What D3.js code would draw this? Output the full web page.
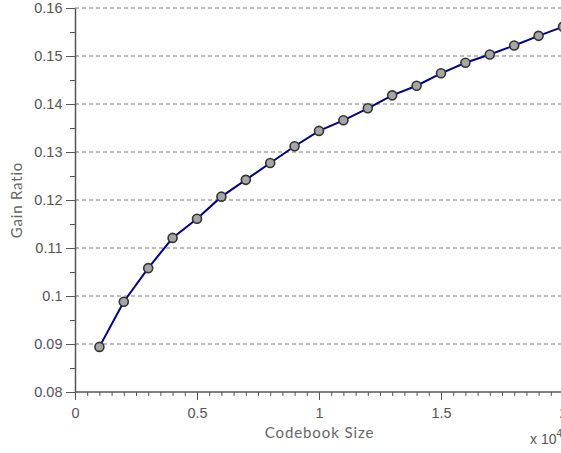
<!DOCTYPE html>
<html>
<head>
<meta charset="utf-8">
<script src="https://cdn.jsdelivr.net/npm/d3@7"></script>
<style>
  html, body { margin: 0; padding: 0; background: #fff; }
  svg { display: block; }
  .tick text { font-family: "Liberation Sans", Arial, sans-serif; font-size: 14.5px; fill: #555; }
  .domain { stroke: #555; }
</style>
</head>
<body>
<svg id="chart" width="561" height="453"></svg>
<script>
// Codebook size (in units of 10^4) and the resulting gain ratio
const codebookSize = [0.1, 0.2, 0.3, 0.4, 0.5, 0.6, 0.7, 0.8, 0.9, 1.0,
                      1.1, 1.2, 1.3, 1.4, 1.5, 1.6, 1.7, 1.8, 1.9, 2.0];
const gainRatio = [0.0894, 0.0988, 0.1058, 0.1121, 0.1161, 0.1207, 0.1242, 0.1277, 0.1312, 0.1344,
                   0.1366, 0.1391, 0.1418, 0.1438, 0.1464, 0.1486, 0.1503, 0.1522, 0.1542, 0.1561];
const xTicks = [0, 0.5, 1, 1.5, 2];
const yTicks = [0.08, 0.09, 0.1, 0.11, 0.12, 0.13, 0.14, 0.15, 0.16];

const svg = d3.select("#chart");
const x = d3.scaleLinear().domain([0, 2]).range([75, 563]);
const y = d3.scaleLinear().domain([0.08, 0.16]).range([392, 8]);

// dashed horizontal grid
svg.append("g").selectAll("line").data(yTicks.slice(1)).join("line")
  .attr("x1", x(0)).attr("x2", 561)
  .attr("y1", d => y(d)).attr("y2", d => y(d))
  .attr("stroke", "#7a7a7a").attr("stroke-width", 1)
  .attr("stroke-dasharray", "4,3");

// minor ticks
const xMinor = d3.range(0, 41).map(i => i * 0.05);
const yMinor = d3.range(0, 17).map(i => 0.08 + i * 0.005);

svg.append("g").attr("transform", `translate(0,${y(0.08)})`)
  .call(d3.axisBottom(x).tickValues(xMinor).tickSize(4).tickFormat(""))
  .call(g => g.selectAll("line").attr("stroke", "#555"))
  .call(g => g.select(".domain").remove());
svg.append("g").attr("transform", `translate(${x(0)},0)`)
  .call(d3.axisLeft(y).tickValues(yMinor).tickSize(5).tickFormat(""))
  .call(g => g.selectAll("line").attr("stroke", "#555"))
  .call(g => g.select(".domain").remove());

// major axes
svg.append("g").attr("transform", `translate(0,${y(0.08)})`)
  .call(d3.axisBottom(x).tickValues(xTicks).tickSize(8).tickSizeOuter(0).tickPadding(8)
        .tickFormat(d => d3.format("")(d)))
  .call(g => g.selectAll("line").attr("stroke", "#555"))
  .call(g => g.select(".domain").attr("d", `M${x(0)},0H561`).attr("stroke-width", 1.5));
svg.append("g").attr("transform", `translate(${x(0)},0)`)
  .call(d3.axisLeft(y).tickValues(yTicks).tickSize(9).tickSizeOuter(0).tickPadding(3.5)
        .tickFormat(d => d3.format("")(+d.toFixed(2))))
  .call(g => g.selectAll("line").attr("stroke", "#555"))
  .call(g => g.select(".domain").attr("stroke-width", 1.5));

// axis titles
svg.append("text").attr("x", 319.5).attr("y", 438)
  .attr("text-anchor", "middle")
  .attr("font-family", "Lato, 'Liberation Sans', sans-serif").attr("font-size", 15)
  .attr("letter-spacing", 0.9)
  .attr("fill", "#666").text("Codebook Size");
svg.append("text").attr("transform", "translate(22,200) rotate(-90)")
  .attr("text-anchor", "middle")
  .attr("font-family", "Lato, 'Liberation Sans', sans-serif").attr("font-size", 15)
  .attr("letter-spacing", 0.8)
  .attr("fill", "#666").text("Gain Ratio");
const mult = svg.append("text").attr("x", 530).attr("y", 444)
  .attr("font-family", "'Liberation Sans', Arial, sans-serif").attr("font-size", 14)
  .attr("fill", "#555").text("x 10");
mult.append("tspan").attr("dy", -7).attr("font-size", 10).text("4");

// series
const pts = codebookSize.map((c, i) => [c, gainRatio[i]]);
svg.append("path").datum(pts)
  .attr("fill", "none").attr("stroke", "#00008b").attr("stroke-width", 2)
  .attr("d", d3.line().x(d => x(d[0])).y(d => y(d[1])));
svg.append("g").selectAll("circle").data(pts).join("circle")
  .attr("cx", d => x(d[0])).attr("cy", d => y(d[1])).attr("r", 4.5)
  .attr("fill", "#a6a6a6").attr("stroke", "#333").attr("stroke-width", 1.6);
</script>
</body>
</html>
